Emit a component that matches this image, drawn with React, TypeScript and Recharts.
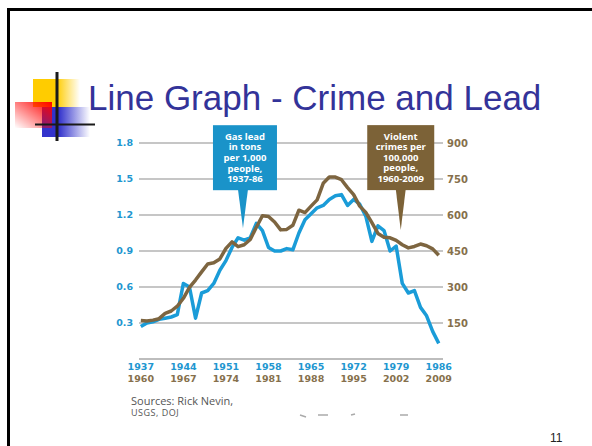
import React from 'react'
import { LineChart, Line, XAxis, YAxis, CartesianGrid, ReferenceDot } from 'recharts'

// gas lead, tons per 1,000 people, 1937-1986
const leadValues = [
  0.27, 0.30, 0.31, 0.33, 0.34, 0.35, 0.37, 0.63, 0.60, 0.34,
  0.55, 0.57, 0.63, 0.74, 0.82, 0.93, 1.01, 0.99, 1.01, 1.13,
  1.07, 0.93, 0.90, 0.90, 0.92, 0.91, 1.05, 1.16, 1.21, 1.26,
  1.28, 1.33, 1.36, 1.37, 1.28, 1.33, 1.29, 1.19, 0.98, 1.11,
  1.07, 0.90, 0.94, 0.63, 0.55, 0.57, 0.43, 0.36, 0.23, 0.13,
]
// violent crimes per 100,000 people, 1960-2009
const crimeValues = [
  160, 158, 162, 168, 190, 200, 220, 253, 298, 329,
  363, 396, 401, 417, 461, 488, 468, 476, 498, 549,
  597, 594, 571, 538, 540, 557, 620, 610, 637, 663,
  732, 758, 758, 747, 714, 685, 637, 611, 568, 523,
  507, 505, 494, 476, 463, 469, 479, 472, 459, 432,
]
const FIRST_LEAD_YEAR = 1937
const leadTickYears = [1937, 1944, 1951, 1958, 1965, 1972, 1979, 1986]
const crimeTickYears = [1960, 1967, 1974, 1981, 1988, 1995, 2002, 2009]
const leadTicks = [0.3, 0.6, 0.9, 1.2, 1.5, 1.8]
const crimeTicks = [150, 300, 450, 600, 750, 900]
const leadNote = ['Gas lead', 'in tons', 'per 1,000', 'people,', '1937-86']
const crimeNote = ['Violent', 'crimes per', '100,000', 'people,', '1960-2009']

const rows = leadValues.map((v, i) => ({ year: FIRST_LEAD_YEAR + i, lead: v, crime: crimeValues[i] }))

const BLUE = '#1a9cd8'
const BROWN = '#7d6540'
const BLUE_TXT = '#2196d0'
const BROWN_TXT = '#86704c'
const NUMFONT = "'DejaVu Sans', sans-serif"
const NOTEFONT = "'Open Sans', sans-serif"

function YearTick({ x, y, index }: any) {
  return (
    <text x={x} y={y + 10.5} textAnchor="middle" fontSize={9.5} fontWeight={700} fontFamily={NUMFONT}>
      <tspan x={x} fill={BLUE_TXT}>{leadTickYears[index]}</tspan>
      <tspan x={x} dy={12.5} fill={BROWN_TXT}>{crimeTickYears[index]}</tspan>
    </text>
  )
}

function Callout({ cx, cy, lines, fill, w, h, rise, shift }: any) {
  const bottom = cy - rise
  const top = bottom - h
  return (
    <g>
      <rect x={cx + shift - w / 2} y={top} width={w} height={h} fill={fill} />
      <polygon points={`${cx - 5},${bottom - 1} ${cx + 5},${bottom - 1} ${cx},${cy}`} fill={fill} />
      <text x={cx + shift} y={top + 14.5} textAnchor="middle" fill="#fff" fontSize={9.5} fontWeight={700} fontFamily={NOTEFONT}>
        {lines.map((t: string, i: number) => (
          <tspan key={i} x={cx + shift} dy={i === 0 ? 0 : 10.6}>{t}</tspan>
        ))}
      </text>
    </g>
  )
}

function Slide() {
  return (
    <svg width={592} height={446} style={{ position: 'absolute', left: 0, top: 0 }}>
      <defs>
        <linearGradient id="gY" x1="0" y1="0" x2="1" y2="0">
          <stop offset="0.5" stopColor="#ffcc00" />
          <stop offset="1" stopColor="#ffcc00" stopOpacity={0} />
        </linearGradient>
        <linearGradient id="gR" x1="1" y1="0" x2="0" y2="1">
          <stop offset="0" stopColor="#ff0000" />
          <stop offset="1" stopColor="#ff0000" stopOpacity={0} />
        </linearGradient>
        <linearGradient id="gB" x1="0" y1="0" x2="1" y2="0">
          <stop offset="0.35" stopColor="#3333cc" />
          <stop offset="1" stopColor="#3333cc" stopOpacity={0} />
        </linearGradient>
      </defs>
      <line x1={7} y1={9.5} x2={592} y2={9.5} stroke="#000" strokeWidth={3} />
      <line x1={8.5} y1={8} x2={8.5} y2={446} stroke="#000" strokeWidth={3} />
      {/* logo */}
      <rect x={33} y={79} width={47} height={28} fill="url(#gY)" />
      <rect x={42} y={107} width={48} height={30} fill="url(#gB)" />
      <rect x={15} y={102} width={37} height={26} fill="url(#gR)" />
      <line x1={57} y1={72} x2={57} y2={141} stroke="#1a1a1a" strokeWidth={3} />
      <line x1={35} y1={124.5} x2={95} y2={124.5} stroke="#1a1a1a" strokeWidth={2} />
      <text x={88} y={110} fontFamily="'Liberation Sans', Arial, sans-serif" fontSize={35} fill="#333399">Line Graph - Crime and Lead</text>
      <text x={131} y={405} fontFamily={NOTEFONT} fill="#555">
        <tspan x={131} fontSize={11}>Sources: Rick Nevin,</tspan>
        <tspan x={131} dy={10.5} fontSize={9} letterSpacing={0.5}>USGS, DOJ</tspan>
      </text>
      <g stroke="#aaa" strokeWidth={1.5}>
        <line x1={300} y1={415} x2={306} y2={417} />
        <line x1={318} y1={415} x2={328} y2={415} />
        <line x1={351} y1={415} x2={355} y2={414} />
        <line x1={400} y1={415} x2={408} y2={415} />
      </g>
      <text x={550} y={441.5} fontFamily="'Liberation Sans', Arial, sans-serif" fontSize={12} fill="#222">11</text>
    </svg>
  )
}

export default function App() {
  return (
    <div style={{ position: 'absolute', left: 0, top: 0, width: 592, height: 446, background: '#fff', overflow: 'hidden' }}>
      <Slide />
      <LineChart width={592} height={446} data={rows} style={{ position: 'absolute', left: 0, top: 0 }}
        margin={{ top: 143, right: 109, bottom: 57, left: 99 }}>
        <CartesianGrid yAxisId="left" vertical={false} stroke="#c6c6c6" strokeWidth={2} />
        <XAxis dataKey="year" type="number" domain={[1936.7, 1986.7]} ticks={leadTickYears} interval={0}
          height={30} tickSize={0} tickMargin={0} tickLine={false} axisLine={{ stroke: '#bdbdbd', strokeWidth: 2 }}
          tick={<YearTick />} />
        <YAxis yAxisId="left" domain={[0, 1.8]} ticks={leadTicks} width={40} tickSize={4} tickMargin={2}
          axisLine={false} tickLine={false} tickFormatter={(v: number) => v.toFixed(1)}
          tick={{ fill: BLUE_TXT, fontSize: 9.5, fontWeight: 700, fontFamily: NUMFONT }} />
        <YAxis yAxisId="right" orientation="right" domain={[0, 900]} ticks={crimeTicks} width={40} tickSize={2} tickMargin={2}
          axisLine={false} tickLine={false}
          tick={{ fill: BROWN_TXT, fontSize: 10, fontWeight: 700, fontFamily: NUMFONT, textAnchor: 'start' }} />
        <Line yAxisId="left" dataKey="lead" stroke={BLUE} strokeWidth={3.5} dot={false} isAnimationActive={false} strokeLinejoin="round" />
        <Line yAxisId="right" dataKey="crime" stroke={BROWN} strokeWidth={3.5} dot={false} isAnimationActive={false} strokeLinejoin="round" />
        <ReferenceDot yAxisId="left" x={1953.8} y={1.09} ifOverflow="visible"
          shape={(p: any) => <Callout cx={p.cx} cy={p.cy} lines={leadNote} fill="#1a93c9" w={64} h={65} rise={38} shift={2} />} />
        <ReferenceDot yAxisId="right" x={1979.75} y={537} ifOverflow="visible"
          shape={(p: any) => <Callout cx={p.cx} cy={p.cy} lines={crimeNote} fill="#7c6237" w={67} h={65} rise={40} shift={0} />} />
      </LineChart>
    </div>
  )
}
